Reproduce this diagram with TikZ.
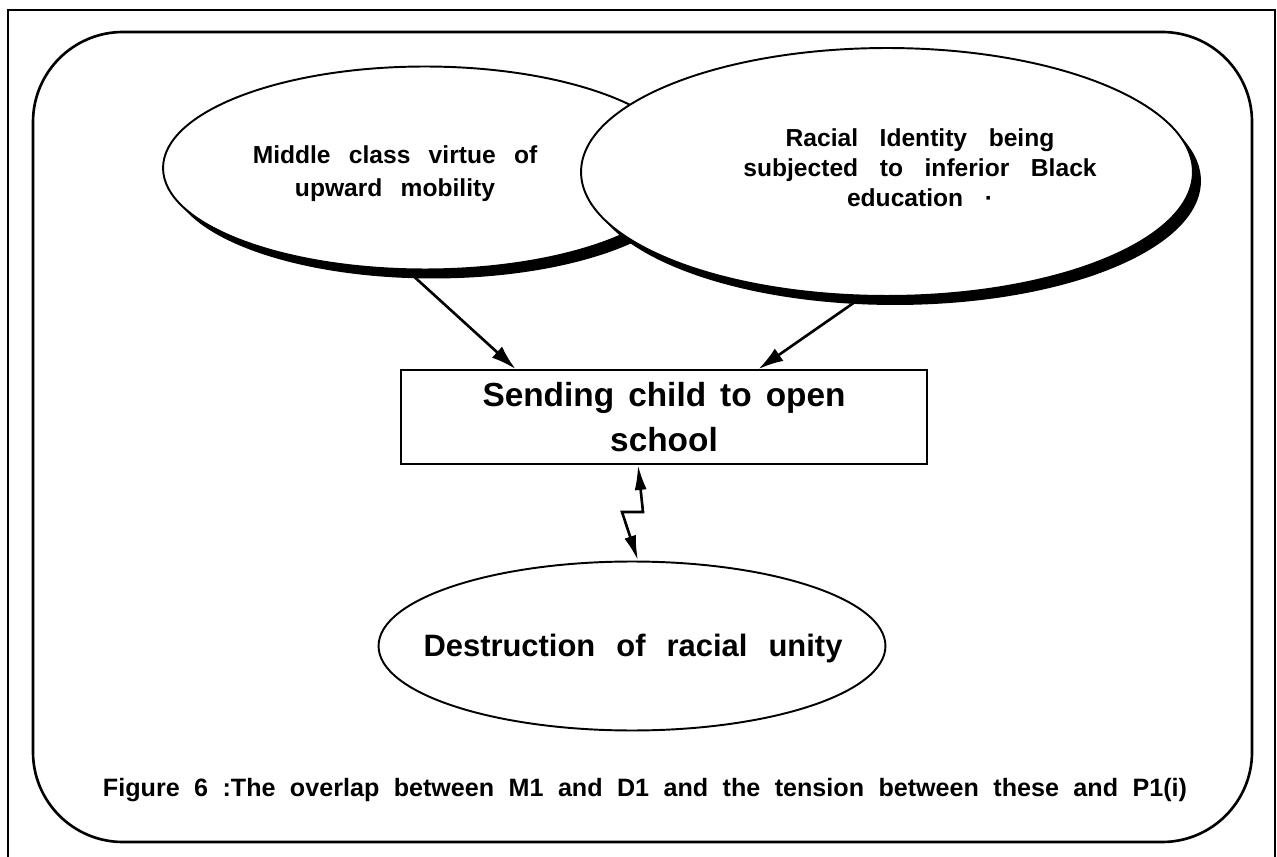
\documentclass[tikz, border = 0pt]{standalone}
\usepackage{fontspec}
\setmainfont{Liberation Sans}
\usetikzlibrary{shapes.geometric, shadows, arrows.meta}

\begin{document}
\begin{tikzpicture}[x = 0.02cm, y = -0.02cm,
  oval/.style = {ellipse, draw, fill = white, line width = 1.1pt, inner sep = 0pt},
  bubble/.style = {oval, drop shadow = {shadow xshift = 0.16cm, shadow yshift = -0.18cm, fill = black, opacity = 1}},
  push/.style = {line width = 1.5pt, arrows = {-Latex[length = 0.5cm, width = 0.3cm]}},
  zigzag/.style = {line width = 1.5pt, arrows = {Latex[length = 0.5cm, width = 0.24cm]-Latex[length = 0.5cm, width = 0.24cm]}}]

\useasboundingbox (0, 0) rectangle (1277, 857);

\draw[line width = 1.5pt] (8, 857) -- (8, 10) -- (1275, 10) -- (1275, 857);
\draw[line width = 1.5pt, rounded corners = 1.8cm] (33, 32) rectangle (1252, 842);

\node[bubble, minimum width = 10.48cm, minimum height = 4.06cm] (midclass) at (425, 168) {};
\node[bubble, minimum width = 12.24cm, minimum height = 4.96cm] (racial) at (887, 172) {};
\node[oval, minimum width = 10.14cm, minimum height = 3.38cm] (destruction) at (632, 646) {};

\node[align = center, font = {\bfseries\fontsize{14}{18.8}\selectfont\spaceskip = 10.4pt}] (midclasstext) at (395, 174) {Middle class virtue of\\upward mobility};
\node[align = center, font = {\bfseries\fontsize{14}{17}\selectfont\spaceskip = 12.3pt}] (racialtext) at (920, 168) {Racial Identity being\\subjected to inferior Black\\education ·};
\node[font = {\bfseries\fontsize{17.6}{21}\selectfont\spaceskip = 12pt}] (destructiontext) at (633, 649) {Destruction of racial unity};

\node[draw, line width = 1.1pt, minimum width = 10.54cm, minimum height = 1.88cm, inner sep = 0pt, align = center, font = {\bfseries\fontsize{19}{25.6}\selectfont\spaceskip = 8pt}] (sending) at (664, 417) {Sending child to open\\school};

\draw[push] (midclass.-100) -- ([xshift = 2.32cm] sending.north west);
\draw[push] (racial.-101) -- ([xshift = 7.18cm] sending.north west);

\coordinate (zaptop) at (643, 512);
\coordinate (zapbottom) at (622, 512);
\draw[zigzag] ([xshift = -0.52cm] sending.south) -- (zaptop) -- (zapbottom) -- ([xshift = 0.12cm] destruction.north);

\node[font = {\bfseries\fontsize{14.3}{17}\selectfont\spaceskip = 8.2pt}] (caption) at (645, 790) {Figure 6 :The overlap between M1 and D1 and the tension between these and P1(i)};

\end{tikzpicture}
\end{document}
